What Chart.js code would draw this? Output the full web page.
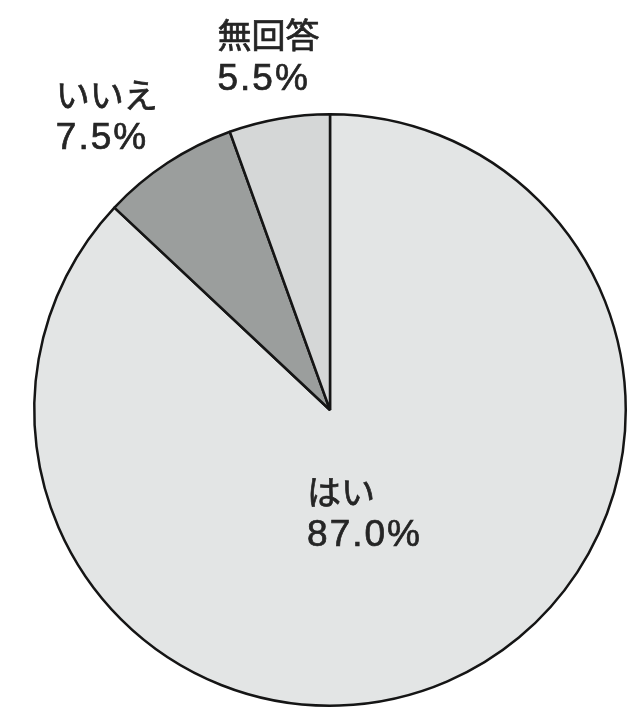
<!DOCTYPE html>
<html>
<head>
<meta charset="utf-8">
<script src="https://cdn.jsdelivr.net/npm/chart.js@4"></script>
<style>
  html, body { margin: 0; padding: 0; background: #ffffff; }
  #wrap { width: 641px; height: 712px; }
</style>
</head>
<body>
<div id="wrap"><canvas id="myChart"></canvas></div>
<script>
let Respuestas = ['はい', 'いいえ', '無回答'];
let Porcentajes = [87.0, 7.5, 5.5];
let Colores = ['#e3e5e5', '#9b9e9d', '#d5d7d7'];
// how far out each label sits (fraction of radius) and a small angle nudge (deg)
let Distancia = [0.37, 1.245, 1.21];
let Giro = [5, -4, 0];

var myChart;

const etiquetas = {
    id: 'etiquetas',
    afterDraw(chart) {
        const ctx = chart.ctx;
        const meta = chart.getDatasetMeta(0);
        ctx.save();
        ctx.fillStyle = '#252525';
        ctx.strokeStyle = '#252525';
        ctx.lineWidth = 0.7;
        ctx.textBaseline = 'middle';
        ctx.textAlign = 'left';
        meta.data.forEach((arc, i) => {
            const p = arc.getProps(['x', 'y', 'startAngle', 'endAngle', 'outerRadius'], true);
            const a = (p.startAngle + p.endAngle) / 2 + Giro[i] * Math.PI / 180;
            const r = p.outerRadius * Distancia[i];
            const cx = p.x + Math.cos(a) * r;
            const cy = p.y + Math.sin(a) * r;
            const linea1 = Respuestas[i];
            const linea2 = Porcentajes[i].toFixed(1) + '%';
            ctx.font = '34px "Noto Sans CJK JP"';
            ctx.letterSpacing = '0px';
            const w1 = ctx.measureText(linea1).width;
            ctx.font = '37px "Liberation Sans"';
            ctx.letterSpacing = '2px';
            const w2 = ctx.measureText(linea2).width;
            const x0 = cx - Math.max(w1, w2) / 2;
            ctx.font = '34px "Noto Sans CJK JP"';
            ctx.letterSpacing = '0px';
            ctx.fillText(linea1, x0, cy - 22);
            ctx.strokeText(linea1, x0, cy - 22);
            ctx.font = '37px "Liberation Sans"';
            ctx.letterSpacing = '2px';
            ctx.fillText(linea2, x0, cy + 22);
            ctx.strokeText(linea2, x0, cy + 22);
        });
        ctx.restore();
    }
};

function ChartRespuestas() {
    const data = {
        labels: Respuestas,
        datasets: [{
            data: Porcentajes,
            backgroundColor: Colores,
            borderColor: '#151515',
            borderWidth: 2.5
        }]
    };
    const config = {
        type: 'pie',
        data: data,
        options: {
            responsive: true,
            maintainAspectRatio: false,
            animation: false,
            layout: { padding: { left: 33, right: 14, top: 112, bottom: 4 } },
            plugins: {
                legend: { display: false },
                tooltip: { enabled: false }
            }
        },
        plugins: [etiquetas]
    };
    if (myChart != null) {
        myChart.destroy();
    }
    myChart = new Chart(document.getElementById('myChart'), config);
}

ChartRespuestas();
</script>
</body>
</html>
